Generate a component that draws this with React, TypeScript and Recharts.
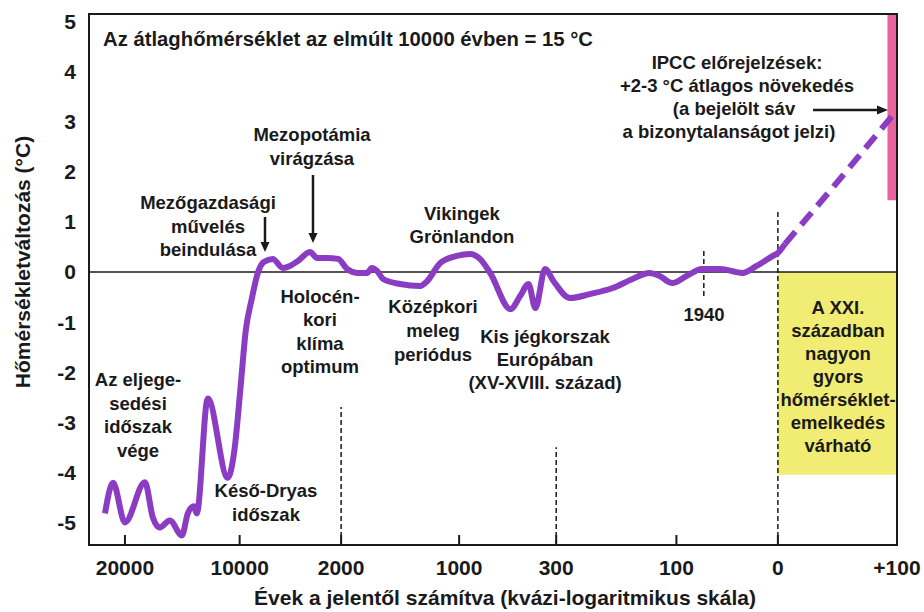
import React from 'react'
import {
  ComposedChart,
  Line,
  XAxis,
  YAxis,
  ReferenceLine,
  ReferenceArea,
} from 'recharts'

// quasi-logarithmic time axis: years before present (negative = future)
const TICK_YEARS = [20000, 10000, 2000, 1000, 300, 100, 0, -100]
const TICK_LABELS = ['20000', '10000', '2000', '1000', '300', '100', '0', '+100']
// position of each tick on the (hand drawn, uneven) axis
const TICK_POS = [0, 1.04, 1.96, 3.03, 3.91, 5.0, 5.92, 7]

const Y_TICKS = [-5, -4, -3, -2, -1, 0, 1, 2, 3, 4, 5]

// temperature change vs. the 10000 year average (°C)
const YEARS_BP = [
  21740, 21040, 20000, 18260, 17570, 16960, 16090, 15040, 14520, 14000, 13740,
  12780, 11040, 10430, 9920, 9520, 9050, 8570, 8100, 7390, 6590, 6040, 5410,
  4460, 3900, 3110, 2240, 1950, 1864, 1780, 1740, 1695, 1644, 1500, 1330, 1270,
  1160, 1020, 920, 850, 776, 630, 560, 500, 450, 380, 320, 277, 244, 206, 173,
  145, 128, 107, 90, 75, 57, 35, 21, 5, 0, -6,
]
const TEMP = [
  -4.81, -4.2, -4.99, -4.19, -4.89, -5.09, -4.95, -5.25, -4.81, -4.67, -4.81,
  -2.52, -4.1, -3.5, -2.27, -1.17, -0.54, -0.02, 0.2, 0.26, 0.08, 0.12, 0.22,
  0.4, 0.28, 0.28, 0.26, 0.06, -0.02, -0.02, 0.08, 0.02, -0.14, -0.24, -0.28, -0.18,
  0.18, 0.32, 0.36, 0.26, -0.02, -0.74, -0.48, -0.24, -0.72, 0.06, -0.18, -0.52, -0.44, -0.32, -0.14,
  -0.02, -0.08, -0.22, -0.08, 0.06, 0.06, -0.02, 0.12, 0.32, 0.38, 0.56,
]

// IPCC projection (dashed part)
const FORECAST_YEARS = [-6, -45, -97]
const FORECAST_TEMP = [0.56, 1.65, 3.14]

// uncertainty band of the projection, drawn at the right edge
const BAND_YEARS = [-92, -100]
const BAND_TEMP = [1.43, 5.14]

// "1940" marker, in years before present
const MARK_1940 = 73

const X_MIN = -0.326
const X_MAX = 7
const Y_MIN = -5.44
const Y_MAX = 5.14

const FONT = "'Liberation Sans', Arial, Helvetica, sans-serif"
const INK = '#1a1a1a'
const PURPLE = '#8a3cc2'

function toPos(year: number): number {
  let i = 0
  while (i < TICK_YEARS.length - 2 && year < TICK_YEARS[i + 1]) i++
  const y0 = TICK_YEARS[i]
  const y1 = TICK_YEARS[i + 1]
  return TICK_POS[i] + ((year - y0) / (y1 - y0)) * (TICK_POS[i + 1] - TICK_POS[i])
}

const curve = YEARS_BP.map((yr, i) => ({ pos: toPos(yr), temp: TEMP[i] }))
const forecast = FORECAST_YEARS.map((yr, i) => ({ pos: toPos(yr), temp: FORECAST_TEMP[i] }))

const XTick = (props: any) => {
  const { x, y, payload, index } = props
  const i = index ?? TICK_POS.indexOf(payload.value)
  return (
    <g>
      {i < TICK_POS.length - 1 && (
        <line x1={x} y1={y} x2={x} y2={y - 10} stroke={INK} strokeWidth={2} />
      )}
      <text x={x} y={y + 30} textAnchor="middle" fontSize={21} fontWeight={700} fontFamily={FONT} fill={INK}>
        {TICK_LABELS[i]}
      </text>
    </g>
  )
}

const YTick = (props: any) => {
  const { x, y, payload } = props
  return (
    <text x={x - 13} y={y + 7.5} textAnchor="end" fontSize={21} fontWeight={700} fontFamily={FONT} fill={INK}>
      {payload.value}
    </text>
  )
}

const Note = ({ x, y, lines, dy = 23.5, size = 18.5, anchor = 'middle' }: {
  x: number | number[]; y: number; lines: string[]; dy?: number; size?: number; anchor?: 'start' | 'middle' | 'end'
}) => (
  <text fontSize={size} fontWeight={700} fontFamily={FONT} fill={INK} textAnchor={anchor}>
    {lines.map((l, i) => (
      <tspan key={i} x={Array.isArray(x) ? x[i] : x} y={y + i * dy}>{l}</tspan>
    ))}
  </text>
)

const DownArrow = ({ x, y1, y2 }: { x: number; y1: number; y2: number }) => (
  <g>
    <line x1={x} y1={y1} x2={x} y2={y2 - 8} stroke={INK} strokeWidth={2.5} />
    <polygon points={`${x - 4.5},${y2 - 10} ${x + 4.5},${y2 - 10} ${x},${y2}`} fill={INK} />
  </g>
)

const dashed = { stroke: INK, strokeWidth: 1.5, strokeDasharray: '5 3' }

export default function App() {
  return (
    <div style={{ width: 924, height: 612, position: 'relative', background: '#fff' }}>
      <style>{'html,body{margin:0;padding:0;}'}</style>
      <ComposedChart width={924} height={612} margin={{ top: 14, right: 27, bottom: 0, left: 0 }}>
        <XAxis
          type="number"
          dataKey="pos"
          domain={[X_MIN, X_MAX]}
          ticks={TICK_POS}
          interval={0}
          allowDataOverflow
          height={67}
          axisLine={false}
          tickLine={false}
          tickSize={0}
          tickMargin={0}
          tick={<XTick />}
        />
        <YAxis
          type="number"
          domain={[Y_MIN, Y_MAX]}
          ticks={Y_TICKS}
          interval={0}
          allowDataOverflow
          width={89}
          axisLine={false}
          tickLine={false}
          tickSize={0}
          tickMargin={0}
          tick={<YTick />}
        />
        <ReferenceArea x1={toPos(0)} x2={toPos(-100)} y1={-4.04} y2={0} fill="#f1ec74" fillOpacity={1} stroke="none" />
        <ReferenceArea
          x1={toPos(BAND_YEARS[0])}
          x2={toPos(BAND_YEARS[1])}
          y1={BAND_TEMP[0]}
          y2={BAND_TEMP[1]}
          fill="#e9649c"
          fillOpacity={1}
          stroke="none"
        />
        <ReferenceLine y={0} stroke={INK} strokeWidth={1.5} />
        <ReferenceLine segment={[{ x: toPos(2000), y: Y_MIN }, { x: toPos(2000), y: -2.69 }]} {...dashed} />
        <ReferenceLine segment={[{ x: toPos(300), y: Y_MIN }, { x: toPos(300), y: -3.49 }]} {...dashed} />
        <ReferenceLine segment={[{ x: toPos(0), y: Y_MIN }, { x: toPos(0), y: 1.2 }]} {...dashed} />
        <ReferenceLine segment={[{ x: toPos(MARK_1940), y: -0.48 }, { x: toPos(MARK_1940), y: 0.44 }]} {...dashed} />
        <Line
          data={curve}
          dataKey="temp"
          type="monotone"
          stroke={PURPLE}
          strokeWidth={6}
          dot={false}
          isAnimationActive={false}
        />
        <Line
          data={forecast}
          dataKey="temp"
          type="linear"
          stroke={PURPLE}
          strokeWidth={6}
          strokeDasharray="16 9"
          dot={false}
          isAnimationActive={false}
        />
        <ReferenceArea x1={X_MIN} x2={X_MAX} y1={Y_MIN} y2={Y_MAX} fill="none" stroke={INK} strokeWidth={2} />
      </ComposedChart>

      <svg width={924} height={612} style={{ position: 'absolute', left: 0, top: 0, pointerEvents: 'none' }}>
        <Note x={103} y={46} size={20.3} anchor="start" lines={['Az átlaghőmérséklet az elmúlt 10000 évben = 15 °C']} />
        <Note x={208} y={209} lines={['Mezőgazdasági', 'művelés', 'beindulása']} />
        <DownArrow x={265} y1={217} y2={252} />
        <Note x={312} y={141} dy={24} lines={['Mezopotámia', 'virágzása']} />
        <DownArrow x={313} y1={175} y2={243} />
        <Note x={462} y={220} dy={23} lines={['Vikingek', 'Grönlandon']} />
        <Note x={320} y={303} dy={23.3} lines={['Holocén-', 'kori', 'klíma', 'optimum']} />
        <Note x={433} y={313} dy={24} lines={['Középkori', 'meleg', 'periódus']} />
        <Note x={545} y={343} dy={23} lines={['Kis jégkorszak', 'Európában', '(XV-XVIII. század)']} />
        <Note x={138} y={386} dy={23.5} lines={['Az eljege-', 'sedési', 'időszak', 'vége']} />
        <Note x={266} y={497} dy={24} lines={['Késő-Dryas', 'időszak']} />
        <Note
          x={[737, 737, 734, 729]}
          y={69}
          dy={23}
          lines={['IPCC előrejelzések:', '+2-3 °C átlagos növekedés', '(a bejelölt sáv', 'a bizonytalanságot jelzi)']}
        />
        <line x1={813} y1={110} x2={879} y2={110} stroke={INK} strokeWidth={2.5} />
        <polygon points="877,105.5 877,114.5 888,110" fill={INK} />
        <Note x={704} y={321} lines={['1940']} />
        <Note
          x={838}
          y={314}
          dy={23}
          lines={['A XXI.', 'században', 'nagyon', 'gyors', 'hőmérséklet-', 'emelkedés', 'várható']}
        />
        <Note x={505} y={605} size={21} lines={['Évek a jelentől számítva (kvázi-logaritmikus skála)']} />
        <g transform="translate(30,262) rotate(-90)">
          <Note x={0} y={0} size={21} lines={['Hőmérsékletváltozás (°C)']} />
        </g>
      </svg>
    </div>
  )
}
